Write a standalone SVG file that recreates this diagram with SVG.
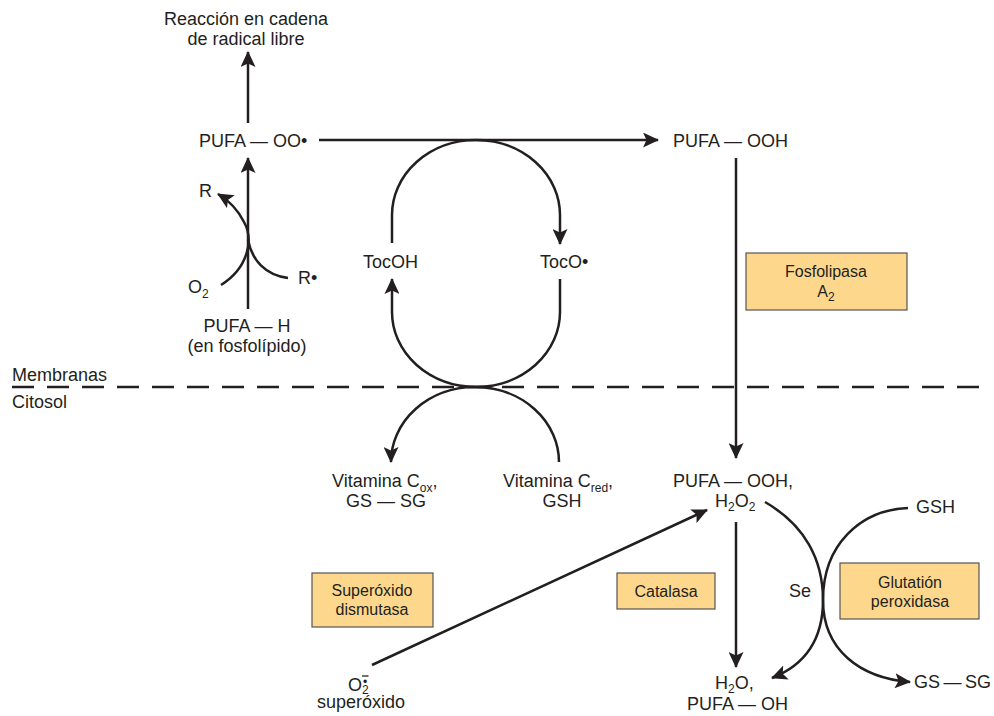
<svg xmlns="http://www.w3.org/2000/svg" width="994" height="716" viewBox="0 0 994 716">
<style>
text{font-family:"Liberation Sans",Arial,Helvetica,sans-serif;font-size:18px;fill:#231f20}
.m{text-anchor:middle}
.box text{font-size:16px}
.box rect{fill:#fdd88c;stroke:#555;stroke-width:1.2}
.ln{fill:none;stroke:#231f20;stroke-width:2.5}
.arr{marker-end:url(#ah)}
.sub{font-size:12px}
</style>
<defs>
<marker id="ah" markerUnits="userSpaceOnUse" markerWidth="16" markerHeight="15" refX="15" refY="7.5" orient="auto">
<path d="M0,0 L16,7.5 L0,15 L3.5,7.5 z" fill="#231f20"/>
</marker>
</defs>
<rect width="994" height="716" fill="#fff"/>

<g id="connectors">
<line class="ln" x1="12" y1="387" x2="982" y2="387" stroke-dasharray="22 13"/>
<path class="ln arr" d="M248,123 L248,52"/>
<path class="ln arr" d="M248,309 L248,158"/>
<path class="ln arr" d="M319,140 L658,140"/>
<path class="ln arr" d="M736,158 L736,458"/>
<path class="ln arr" d="M736,522 L736,667"/>
<path class="ln arr" d="M372,665 L707,510"/>
<path class="ln arr" d="M221,285 C248,268 254,240 244,222 C237,208 228,200 218,194"/>
<path class="ln" d="M248,240 C252,260 265,275 288,278"/>
<path class="ln arr" d="M392,243 L392,215 A84,75 0 0 1 560,215 L560,244"/>
<path class="ln arr" d="M560,279 L560,312 A84,75 0 0 1 392,312 L392,279"/>
<path class="ln arr" d="M559,462 A84,75 0 0 0 391,462"/>
<path class="ln arr" d="M765,502 C805,525 823,560 823,600 C823,640 805,665 772,678"/>
<path class="ln arr" d="M908,508 C860,510 823,545 823,600 C823,650 860,678 910,682"/>
<line x1="362" y1="676" x2="368.5" y2="676" stroke="#231f20" stroke-width="1.3"/>
</g>

<g id="reaccion"><text class="m" x="246" y="25">Reacción en cadena</text><text class="m" x="246" y="45">de radical libre</text></g>
<g id="pufa-oo"><text x="199" y="147">PUFA — OO•</text></g>
<g id="pufa-ooh-top"><text x="673" y="147">PUFA — OOH</text></g>
<g id="r"><text x="199" y="197">R</text></g>
<g id="r-rad"><text x="298" y="284">R•</text></g>
<g id="o2"><text x="188" y="293">O<tspan class="sub" dy="5">2</tspan></text></g>
<g id="pufa-h"><text class="m" x="247" y="332">PUFA — H</text><text class="m" x="247" y="352">(en fosfolípido)</text></g>
<g id="tocoh"><text x="363" y="268">TocOH</text></g>
<g id="toco"><text x="540" y="268">TocO•</text></g>
<g id="membranas"><text x="12" y="381">Membranas</text></g>
<g id="citosol"><text x="12" y="408">Citosol</text></g>
<g id="vitc-ox"><text x="332" y="487">Vitamina C<tspan class="sub" dy="5">ox</tspan><tspan dy="-5">,</tspan></text><text class="m" x="386" y="507">GS — SG</text></g>
<g id="vitc-red"><text x="503" y="487">Vitamina C<tspan class="sub" dy="5">red</tspan><tspan dy="-5">,</tspan></text><text class="m" x="562" y="507">GSH</text></g>
<g id="pufa-ooh-h2o2"><text x="673" y="487">PUFA — OOH,</text><text x="715" y="507">H<tspan class="sub" dy="4">2</tspan><tspan dy="-4">O</tspan><tspan class="sub" dy="4">2</tspan></text></g>
<g id="gsh"><text x="916" y="513">GSH</text></g>
<g id="se"><text x="789" y="597">Se</text></g>
<g id="h2o"><text x="715" y="689">H<tspan class="sub" dy="4">2</tspan><tspan dy="-4">O,</tspan></text><text x="687" y="710">PUFA — OH</text></g>
<g id="gssg"><text x="914" y="688" word-spacing="-1.5">GS — SG</text></g>
<g id="superoxido"><text x="348" y="691">O<tspan class="sub" x="362" dy="3">2</tspan><tspan class="sub" x="363" dy="-8">•</tspan><tspan x="317" dy="22">superóxido</tspan></text></g>

<g id="fosfolipasa" class="box"><rect x="746" y="253" width="161" height="57"/><text class="m" x="826" y="277">Fosfolipasa</text><text class="m" x="826" y="297">A<tspan class="sub" dy="4">2</tspan></text></g>
<g id="catalasa" class="box"><rect x="617" y="573" width="98" height="36"/><text class="m" x="666" y="597">Catalasa</text></g>
<g id="sod" class="box"><rect x="312" y="573" width="121" height="54"/><text class="m" x="372" y="596">Superóxido</text><text class="m" x="372" y="615">dismutasa</text></g>
<g id="gpx" class="box"><rect x="840" y="563" width="139" height="56"/><text class="m" x="910" y="588">Glutatión</text><text class="m" x="910" y="607">peroxidasa</text></g>
</svg>
